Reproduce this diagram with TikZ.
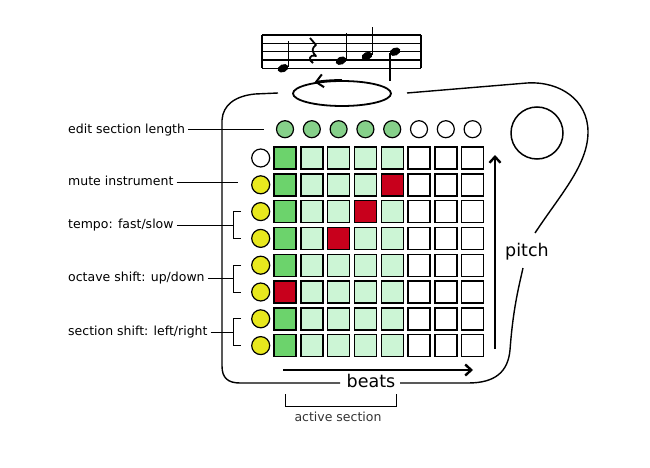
\documentclass[tikz,border=0pt]{standalone}
\usepackage{fontspec}
\setmainfont{DejaVu Sans}
\usetikzlibrary{shapes.geometric,arrows.meta,positioning}

\definecolor{padgreen}{HTML}{6CD36C}
\definecolor{padlight}{HTML}{CCF5D5}
\definecolor{padred}{HTML}{C8001C}
\definecolor{topgreen}{HTML}{86D08A}
\definecolor{btnyellow}{HTML}{E8E81E}

\tikzset{
  pad/.style={draw, line width=1.4pt, minimum size=22pt, inner sep=0pt},
  btn/.style={draw, circle, line width=1.2pt, minimum size=17pt, inner sep=0pt},
  tag/.style={font=\fontsize{12.5}{14}\selectfont, text height=9.3pt,
    text depth=2.5pt, anchor=west, inner sep=3pt},
  big/.style={font=\fontsize{17.5}{20}\selectfont},
  axis/.style={line width=2.4pt, -{Straight Barb[length=6pt,width=11pt]}}
}

\begin{document}
\begin{tikzpicture}[x=1pt,y=-1pt]
\useasboundingbox (0,0) rectangle (650,468);

% Outline of the device, open at the loop, pitch and beats
\draw[line width=1.4pt]
  (407,93) -- (527,83) .. controls (560,81) and (588,100) .. (588,132)
    .. controls (588,165) and (560,195) .. (535,233)
  (523,268) .. controls (518,290) and (513,310) .. (510,350)
    .. controls (508,372) and (495,383) .. (468,383) -- (400,383)
  (340,383) -- (240,383) .. controls (228,383) and (222,378) .. (222,366)
    -- (222,120) .. controls (223,105) and (235,96) .. (255,94) -- (278,93);

% Loop with arrow
\node[draw,
    ellipse,
    line width=1.8pt,
    minimum width=98pt,
    minimum height=25pt] (loop) at (342,93.5) {};
\draw[line width=2pt, -{Straight Barb[length=7pt,width=13pt]}]
  (loop.north) arc[start angle=270, end angle=236, x radius=49, y radius=12.5];

% Big knob
\node[draw,
    circle,
    line width=1.5pt,
    minimum size=52pt] (knob) at (537,133) {};

% Staff with notes
\foreach \i in {0,...,4}
  \draw[line width=1.3pt] (262,35+8.3*\i) -- (421,35+8.3*\i);
\draw[line width=1.3pt] (262,35) -- (262,68.2) (421,35) -- (421,68.2);
\foreach \nx/\ny in {283/68.3, 341/60.7, 367/56, 395/51.7}
  \fill[rotate around={25:(\nx,\ny)}] (\nx,\ny) ellipse[x radius=5.6, y radius=3.9];
\draw[line width=1.2pt] (288.5,67) -- (288.5,40.7);
\draw[line width=1.2pt] (346.5,59.5) -- (346.5,32.7);
\draw[line width=1.2pt] (372.5,55) -- (372.5,26.7);
\draw[line width=1.2pt] (390,53) -- (390,80.7);
% quarter rest
\draw[line width=1.8pt, line join=round]
  (310,38) -- (316,45) .. controls (312,48) and (311,51) .. (316,56)
  .. controls (309,54) and (308,60) .. (313,63);

% Grid of pads
\foreach \c/\col in {1/padgreen,2/padlight,3/padlight,4/padlight,5/padlight,
    6/white,7/white,8/white}
  \foreach \r in {1,...,8}
    \node[pad, fill=\col] (cell-\r-\c) at (285+26.8*\c-26.8,158+26.8*\r-26.8) {};
\foreach \r/\c in {2/5,3/4,4/3,6/1}
  \node[pad, fill=padred] at (cell-\r-\c) {};

% Buttons above the grid
\foreach \c/\col in {1/topgreen,2/topgreen,3/topgreen,4/topgreen,5/topgreen,
    6/white,7/white,8/white}
  \node[btn, fill=\col, above=8pt of cell-1-\c] (top-\c) {};

% Buttons left of the grid
\node[btn, fill=white, minimum size=18pt, left=3pt of cell-1-1] (btn-1) {};
\foreach \r in {2,...,8}
  \node[btn, fill=btnyellow, minimum size=18pt, left=3pt of cell-\r-1] (btn-\r) {};

% Labels on the left
\node[tag] (edit) at (65,130) {edit section length};
\node[tag] (mute) at (65,182) {mute instrument};
\node[tag] (tempo) at (65,225) {tempo: fast/slow};
\node[tag] (octave) at (65,278.5) {octave shift: up/down};
\node[tag] (section) at (65,332.5) {section shift: left/right};

\draw[line width=1pt, shorten >=12pt] (edit.east) -- (edit.east -| top-1.west);
\draw[line width=1pt, shorten >=13pt] (mute.east) -- (mute.east -| btn-2.west);

% Brackets for button pairs
\draw[line width=1pt] ([xshift=-10pt]btn-3.west) -- ++(-8,0) coordinate (tb)
  |- ([xshift=-10pt]btn-4.west);
\draw[line width=1pt] (tempo.east) -- (tempo.east -| tb);
\draw[line width=1pt] ([xshift=-10pt]btn-5.west) -- ++(-8,0) coordinate (ob)
  |- ([xshift=-10pt]btn-6.west);
\draw[line width=1pt] (octave.east) -- (octave.east -| ob);
\draw[line width=1pt] ([xshift=-10pt]btn-7.west) -- ++(-8,0) coordinate (sb)
  |- ([xshift=-10pt]btn-8.west);
\draw[line width=1pt] (section.east) -- (section.east -| sb);

% Axes
\coordinate (pitch-from) at (495,349);
\coordinate (pitch-to) at (495,155);
\draw[axis] (pitch-from) -- (pitch-to);
\node[big] (pitch) at (527,252) {pitch};

\coordinate (beats-from) at (283,370);
\coordinate (beats-to) at (473,370);
\draw[axis] (beats-from) -- (beats-to);
\node[big] (beats) at (371,381) {beats};

% Active section
\draw[line width=1pt] (285,394) -- (285,406) -- (396,406) -- (396,394);
\node[tag, anchor=center, text=black!80] (active) at (338,418) {active section};

\end{tikzpicture}
\end{document}
